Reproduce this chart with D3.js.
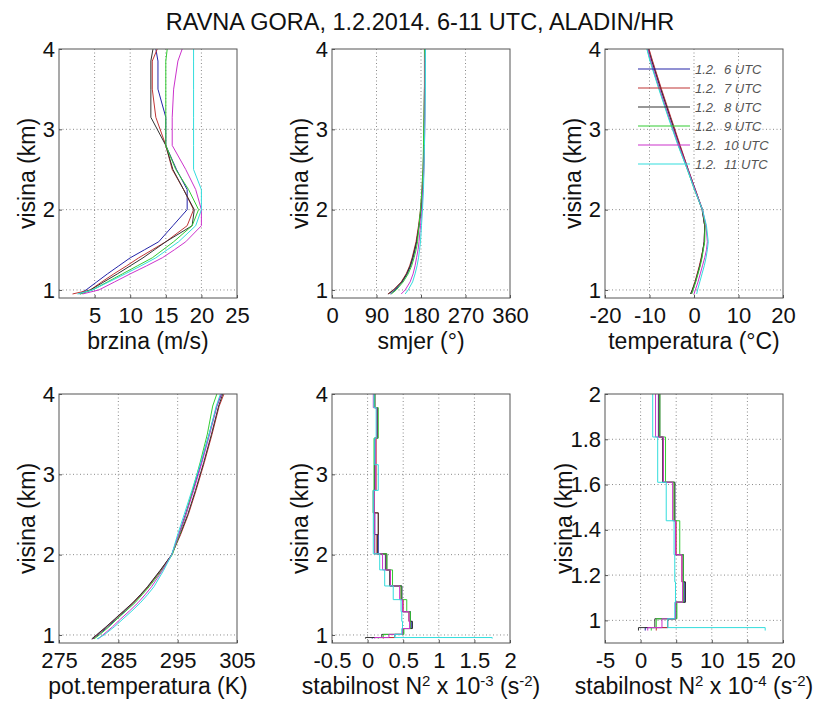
<!DOCTYPE html>
<html>
<head>
<meta charset="utf-8">
<script src="https://cdn.jsdelivr.net/npm/d3@7"></script>
<style>
  body { margin: 0; background: #fff; }
  svg { font-family: "Liberation Sans", Arial, sans-serif; }
</style>
</head>
<body>
<svg id="chart" width="818" height="709"></svg>
<script>
// Sounding profiles, Ravna Gora, ALADIN/HR, 1.2.2014 6-11 UTC
const seriesNames = ["1.2. 6 UTC", "1.2. 7 UTC", "1.2. 8 UTC", "1.2. 9 UTC", "1.2. 10 UTC", "1.2. 11 UTC"];
const seriesColors = ["#2424a8", "#c03535", "#333333", "#33cc33", "#cc33cc", "#33dddd"];

// model levels (km) for the smooth profiles
const levels = [0.95, 1.0, 1.1, 1.2, 1.3, 1.4, 1.5, 1.6, 1.8, 2.0, 2.25, 2.5, 2.8, 3.15, 3.5, 3.85, 4.0];

// wind speed (m/s)
const speed = [
    [2.8, 3.8, 5.3, 6.8, 8.4, 10.0, 12.0, 14.0, 16.0, 18.0, 18.0, 16.5, 15.0, 15.0, 13.9, 13.9, 13.6],
    [1.9, 4.4, 6.0, 7.7, 9.5, 11.2, 13.1, 15.0, 18.0, 18.9, 17.5, 15.9, 15.0, 13.6, 13.1, 13.1, 13.8],
    [3.0, 4.4, 6.3, 8.2, 10.0, 11.8, 13.4, 15.0, 18.7, 19.0, 17.5, 16.0, 15.0, 12.9, 12.9, 12.9, 13.2],
    [3.0, 4.7, 6.8, 8.9, 11.0, 13.1, 14.6, 16.1, 18.7, 19.6, 18.2, 16.4, 15.0, 15.0, 15.0, 15.0, 15.2],
    [3.3, 5.6, 7.8, 10.0, 12.3, 14.5, 16.2, 17.8, 20.0, 20.0, 19.2, 17.8, 15.9, 15.9, 16.1, 16.7, 17.3],
    [2.6, 4.7, 7.0, 9.3, 11.5, 13.6, 15.2, 16.8, 19.2, 20.0, 20.0, 18.9, 18.9, 18.9, 18.9, 18.9, 18.9]
];

// wind direction (deg)
const direction = [
    [118, 128, 142, 152, 159, 164, 168, 171, 176, 180, 183, 185, 186, 187, 187, 188, 188],
    [113, 124, 140, 150, 157, 162, 166, 170, 175, 179, 182, 184, 186, 186, 187, 187, 187],
    [114, 125, 141, 151, 158, 163, 167, 171, 176, 180, 183, 185, 186, 187, 187, 188, 188],
    [120, 130, 144, 154, 161, 166, 170, 173, 176, 179, 182, 184, 185, 186, 187, 187, 187],
    [140, 148, 158, 164, 168, 171, 174, 176, 179, 182, 184, 186, 187, 188, 188, 188, 189],
    [148, 154, 163, 168, 172, 175, 177, 179, 181, 183, 185, 186, 187, 188, 189, 189, 189]
];

// temperature (deg C)
const temperature = [
    [-0.6, -0.3, 0.3, 0.8, 1.3, 1.7, 2.0, 2.3, 2.4, 1.9, 0.3, -1.3, -3.2, -5.3, -7.4, -9.4, -10.2],
    [-0.7, -0.4, 0.2, 0.7, 1.2, 1.6, 2.0, 2.3, 2.4, 1.9, 0.3, -1.3, -3.1, -5.2, -7.3, -9.3, -10.1],
    [-0.8, -0.4, 0.3, 0.8, 1.3, 1.7, 2.0, 2.3, 2.4, 1.8, 0.2, -1.4, -3.3, -5.4, -7.5, -9.5, -10.3],
    [-0.5, -0.2, 0.4, 0.9, 1.4, 1.8, 2.1, 2.4, 2.5, 1.9, 0.1, -1.5, -3.5, -5.7, -7.8, -9.8, -10.5],
    [0.0, 0.3, 0.9, 1.4, 1.9, 2.4, 2.8, 3.0, 2.7, 1.9, 0.2, -1.4, -3.4, -5.6, -7.7, -9.7, -10.4],
    [0.6, 0.8, 1.3, 1.8, 2.3, 2.7, 3.0, 3.2, 2.8, 1.9, 0.1, -1.5, -3.6, -5.8, -7.9, -9.9, -10.6]
];

// potential temperature (K)
const theta = [
    [280.7, 281.6, 283.2, 284.7, 286.2, 287.6, 288.8, 290.0, 292.1, 294.0, 295.2, 296.3, 297.6, 299.0, 300.3, 301.6, 302.4],
    [280.6, 281.4, 283.0, 284.5, 286.0, 287.5, 288.8, 290.0, 292.1, 294.0, 295.5, 296.8, 298.1, 299.5, 300.8, 302.0, 302.8],
    [280.5, 281.3, 282.9, 284.4, 285.9, 287.4, 288.7, 289.9, 292.0, 294.0, 295.4, 296.7, 298.0, 299.4, 300.7, 301.9, 302.6],
    [280.9, 281.8, 283.4, 284.8, 286.3, 287.8, 289.0, 290.2, 292.3, 294.1, 295.3, 296.4, 297.5, 298.8, 300.0, 300.9, 301.6],
    [281.6, 282.4, 284.0, 285.4, 286.9, 288.3, 289.5, 290.6, 292.4, 294.0, 295.2, 296.4, 297.7, 299.1, 300.4, 301.6, 302.3],
    [281.4, 282.6, 284.3, 285.8, 287.3, 288.7, 289.9, 291.0, 292.6, 294.0, 295.0, 296.1, 297.4, 298.9, 300.3, 301.5, 302.2]
];

// layer boundaries (km) and stability N^2 per layer (x 10^-3 s^-2)
const layerBounds = [0.955, 0.968, 1.007, 1.08, 1.17, 1.29, 1.44, 1.61, 1.81, 2.01, 2.25, 2.52, 2.8, 3.12, 3.45, 3.83, 4.0];
const stability = [
    [0.065, 0.38, 0.49, 0.62, 0.60, 0.49, 0.48, 0.32, 0.25, 0.15, 0.10, 0.09, 0.10, 0.10, 0.14, 0.10],
    [0.22, 0.38, 0.49, 0.60, 0.58, 0.50, 0.47, 0.32, 0.26, 0.13, 0.15, 0.09, 0.12, 0.12, 0.13, 0.10],
    [-0.03, 0.20, 0.50, 0.63, 0.60, 0.49, 0.48, 0.31, 0.27, 0.14, 0.15, 0.08, 0.10, 0.10, 0.14, 0.10],
    [0.15, 0.22, 0.51, 0.60, 0.60, 0.55, 0.47, 0.35, 0.27, 0.10, 0.09, 0.08, 0.09, 0.09, 0.15, 0.10],
    [0.10, 0.30, 0.49, 0.59, 0.58, 0.49, 0.45, 0.32, 0.21, 0.10, 0.10, 0.09, 0.11, 0.11, 0.13, 0.08],
    [1.75, 0.38, 0.48, 0.49, 0.48, 0.47, 0.36, 0.24, 0.17, 0.08, 0.08, 0.08, 0.15, 0.10, 0.12, 0.09]
];

// axis ticks
const heightTicks = [1, 2, 3, 4];
const heightTicksLow = [1, 1.2, 1.4, 1.6, 1.8, 2];
const speedTicks = [5, 10, 15, 20, 25];
const directionTicks = [0, 90, 180, 270, 360];
const temperatureTicks = [-20, -10, 0, 10, 20];
const thetaTicks = [275, 285, 295, 305];
const stabilityTicks = [-0.5, 0, 0.5, 1, 1.5, 2];
const stabilityTicksLow = [-5, 0, 5, 10, 15, 20];

const svg = d3.select("#chart");

// Layout: 3 columns x 2 rows of axes boxes
const colLeft = [59, 332, 605];
const rowTop = [49, 394];
const boxW = 178;
const boxH = 249;
const FONT = 22;
const LABEL_FONT = 23;

svg.append("text")
    .attr("x", 420)
    .attr("y", 30)
    .attr("text-anchor", "middle")
    .attr("font-size", 23.5)
    .attr("fill", "#111")
    .text("RAVNA GORA, 1.2.2014. 6-11 UTC, ALADIN/HR");

const profile = (values) => values.map((v, i) => [v, levels[i]]);
const stairs = (values, factor) => {
    const pts = [];
    values.forEach((v, i) => {
        pts.push([v * factor, layerBounds[i]]);
        pts.push([v * factor, layerBounds[i + 1]]);
    });
    return pts;
};

const panels = [
    { col: 0, row: 0, xDomain: [0, 25], xTicks: speedTicks, yDomain: [0.9, 4], yTicks: heightTicks,
      xLabel: [["brzina (m/s)", 0]], lines: speed.map(profile) },
    { col: 1, row: 0, xDomain: [0, 360], xTicks: directionTicks, yDomain: [0.9, 4], yTicks: heightTicks,
      xLabel: [["smjer (°)", 0]], lines: direction.map(profile) },
    { col: 2, row: 0, xDomain: [-20, 20], xTicks: temperatureTicks, yDomain: [0.9, 4], yTicks: heightTicks,
      xLabel: [["temperatura (°C)", 0]], lines: temperature.map(profile), legend: true },
    { col: 0, row: 1, xDomain: [275, 305], xTicks: thetaTicks, yDomain: [0.9, 4], yTicks: heightTicks,
      xLabel: [["pot.temperatura (K)", 0]], lines: theta.map(profile) },
    { col: 1, row: 1, xDomain: [-0.5, 2], xTicks: stabilityTicks, yDomain: [0.9, 4], yTicks: heightTicks,
      xLabel: [["stabilnost N", 0], ["2", 1], [" x 10", 0], ["-3", 1], [" (s", 0], ["-2", 1], [")", 0]],
      lines: stability.map(s => stairs(s, 1)) },
    { col: 2, row: 1, xDomain: [-5, 20], xTicks: stabilityTicksLow, yDomain: [0.9, 2], yTicks: heightTicksLow,
      xLabel: [["stabilnost N", 0], ["2", 1], [" x 10", 0], ["-4", 1], [" (s", 0], ["-2", 1], [")", 0]],
      lines: stability.map(s => stairs(s, 10)), ylabelOffset: 41 }
];

panels.forEach((p, idx) => {
    const left = colLeft[p.col];
    const top = rowTop[p.row];
    const g = svg.append("g").attr("transform", `translate(${left},${top})`);

    const x = d3.scaleLinear().domain(p.xDomain).range([0, boxW]);
    const y = d3.scaleLinear().domain(p.yDomain).range([boxH, 0]);

    // clip for the data lines
    svg.append("clipPath").attr("id", "clip" + idx)
        .append("rect").attr("width", boxW).attr("height", boxH);

    // dotted grid
    const grid = g.append("g").attr("stroke", "#8a8a8a").attr("stroke-width", 1)
        .attr("stroke-dasharray", "1,2.5");
    grid.selectAll(".gx").data(p.xTicks.filter(t => t > p.xDomain[0] && t < p.xDomain[1]))
        .enter().append("line")
        .attr("x1", d => x(d)).attr("x2", d => x(d))
        .attr("y1", 0).attr("y2", boxH);
    grid.selectAll(".gy").data(p.yTicks.filter(t => t > p.yDomain[0] && t < p.yDomain[1]))
        .enter().append("line")
        .attr("y1", d => y(d)).attr("y2", d => y(d))
        .attr("x1", 0).attr("x2", boxW);

    // data lines
    const line = d3.line().x(d => x(d[0])).y(d => y(d[1]));
    g.append("g").attr("clip-path", `url(#clip${idx})`)
        .selectAll("path").data(p.lines).enter().append("path")
        .attr("d", line)
        .attr("fill", "none")
        .attr("stroke", (d, i) => seriesColors[i])
        .attr("stroke-width", 1);

    // axes (ticks inward, MATLAB style)
    const xAxis = g.append("g").attr("transform", `translate(0,${boxH})`)
        .call(d3.axisBottom(x).tickValues(p.xTicks).tickFormat(d => String(d))
            .tickSizeInner(-3).tickSizeOuter(0).tickPadding(9));
    const yAxis = g.append("g")
        .call(d3.axisLeft(y).tickValues(p.yTicks).tickFormat(d => String(d))
            .tickSizeInner(-3).tickSizeOuter(0).tickPadding(4));
    [xAxis, yAxis].forEach(a => {
        a.select(".domain").remove();
        a.selectAll("line").attr("stroke", "#555");
        a.selectAll("text").attr("font-size", FONT).attr("fill", "#111")
            .attr("font-family", "Liberation Sans, Arial, sans-serif");
    });

    // box
    g.append("rect").attr("width", boxW).attr("height", boxH)
        .attr("fill", "none").attr("stroke", "#555").attr("stroke-width", 1);

    // x label (with superscripts)
    const xl = g.append("text")
        .attr("x", boxW / 2).attr("y", boxH + 51)
        .attr("text-anchor", "middle")
        .attr("font-size", LABEL_FONT).attr("fill", "#111");
    let up = 0;
    p.xLabel.forEach(([txt, sup]) => {
        const shift = sup ? -8 : 0;
        xl.append("tspan")
            .attr("dy", shift - up)
            .attr("font-size", sup ? 15 : LABEL_FONT)
            .style("white-space", "pre")
            .text(txt);
        up = shift;
    });

    // y label
    g.append("text")
        .attr("transform", `translate(${-(p.ylabelOffset || 32)},${boxH / 2}) rotate(-90)`)
        .attr("text-anchor", "middle")
        .attr("dy", "0.35em")
        .attr("font-size", LABEL_FONT).attr("fill", "#111")
        .text("visina (km)");

    // legend
    if (p.legend) {
        const lg = g.append("g").attr("transform", "translate(33,20)");
        seriesNames.forEach((name, i) => {
            const row = lg.append("g").attr("transform", `translate(0,${i * 19})`);
            row.append("line").attr("x1", 0).attr("x2", 52)
                .attr("stroke", seriesColors[i]).attr("stroke-width", 1.2);
            row.append("text").attr("x", 57).attr("dy", "0.35em")
                .attr("font-size", 13).attr("font-style", "italic").attr("fill", "#555")
                .style("white-space", "pre")
                .text(name.replace(". ", ".  "));
        });
    }
});
</script>
</body>
</html>
